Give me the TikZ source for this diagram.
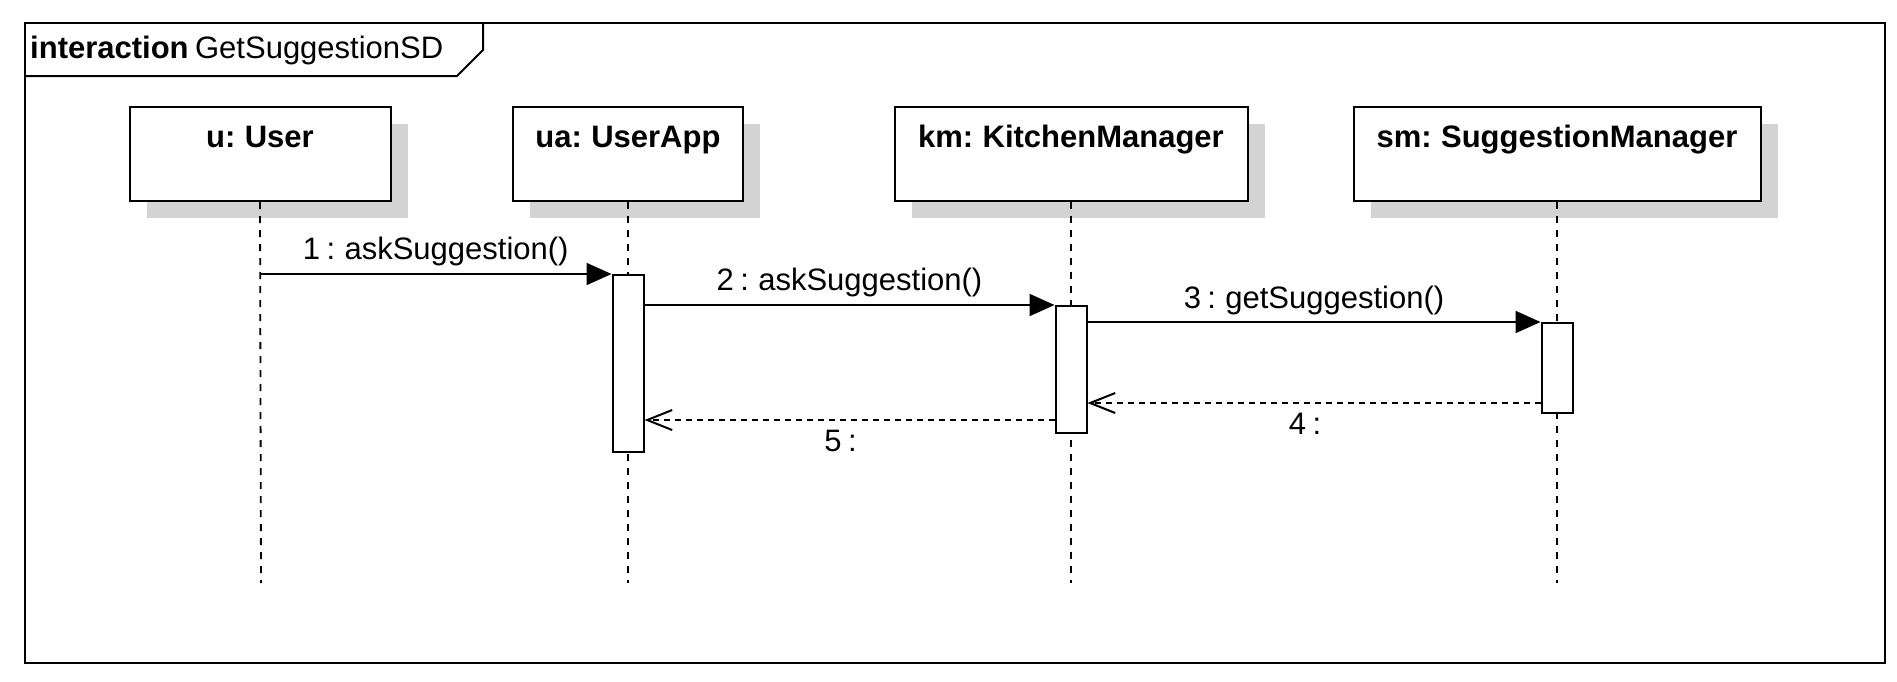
\documentclass[tikz,border=0pt]{standalone}
\usepackage{fontspec}
\setmainfont[WordSpace=0.75]{Liberation Sans}
\usetikzlibrary{arrows.meta,shadows}
\definecolor{shadowgrey}{HTML}{D3D3D3}
\begin{document}
\begin{tikzpicture}[x=1pt,y=-1pt,
  txt/.style={font=\fontsize{31}{37}\selectfont, inner sep=0pt},
  headbox/.style={draw, line width=2pt, fill=white, minimum height=94pt, inner sep=0pt,
    drop shadow={shadow xshift=17pt, shadow yshift=-17pt, fill=shadowgrey, opacity=1}},
  headlbl/.style={txt, font=\fontsize{31}{37}\selectfont\bfseries, anchor=base},
  act/.style={draw, line width=2pt, fill=white, minimum width=31pt, inner sep=0pt},
  lifeline/.style={line width=1.8pt, dash pattern=on 7pt off 7pt},
  msg/.style={line width=2pt, -{Triangle[length=25pt,width=22pt]}},
  ret/.style={line width=2pt, dash pattern=on 6pt off 5pt, -{Straight Barb[length=25pt,width=20pt,line width=2pt]}},
  msglbl/.style={txt, anchor=base}
]
\useasboundingbox (0,0) rectangle (1897,681);

% frame
\node[draw, line width=2pt, minimum width=1860pt, minimum height=640pt, inner sep=0pt] (frame) at (955,343) {};
\coordinate (tA) at (25,76);
\coordinate (tB) at (457,76);
\coordinate (tC) at (483,50);
\coordinate (tD) at (483,23);
\draw[line width=2pt] (tA) -- (tB) -- (tC) -- (tD);
\node[txt, anchor=base west] (title) at (30,58) {\textbf{interaction} GetSuggestionSD};

% heads
\node[headbox, minimum width=261pt] (u) at (260,154) {};
\node[headbox, minimum width=230pt] (ua) at (628,154) {};
\node[headbox, minimum width=353pt] (km) at (1071,154) {};
\node[headbox, minimum width=407pt] (sm) at (1557,154) {};
\node[headlbl] (ut) at ([yshift=-41pt]u.north) {u: User};
\node[headlbl] (uat) at ([yshift=-41pt]ua.north) {ua: UserApp};
\node[headlbl] (kmt) at ([yshift=-41pt]km.north) {km: KitchenManager};
\node[headlbl] (smt) at ([yshift=-41pt]sm.north) {sm: SuggestionManager};

% lifelines
\coordinate (uend) at (261,583);
\coordinate (uaend) at (628,583);
\coordinate (kmend) at (1071,583);
\coordinate (smend) at (1557,583);
\draw[lifeline] (u.south) -- (uend);
\draw[lifeline] (ua.south) -- (uaend);
\draw[lifeline] (km.south) -- (kmend);
\draw[lifeline] (sm.south) -- (smend);

% activations
\node[act, minimum height=177pt] (uaact) at (628,363.5) {};
\node[act, minimum height=127pt] (kmact) at (1071,369.5) {};
\node[act, minimum height=90pt] (smact) at (1557,368) {};

% messages
\draw[msg] (u |- uaact.north) -- (uaact.north west)
  node[msglbl, midway, yshift=15pt] (l1) {1 : askSuggestion()};
\draw[msg] (uaact.east |- kmact.north) -- (kmact.north west)
  node[msglbl, midway, yshift=15pt] (l2) {2 : askSuggestion()};
\draw[msg] (kmact.east |- smact.north) -- (smact.north west)
  node[msglbl, midway, yshift=14pt] (l3) {3 : getSuggestion()};
\coordinate (r4) at ([yshift=11pt]smact.south west);
\draw[ret] (r4) -- (kmact.east |- r4)
  node[msglbl, midway, yshift=-31pt, xshift=-9pt] (l4) {4 :};
\coordinate (r5) at ([yshift=14pt]kmact.south west);
\draw[ret] (r5) -- (uaact.east |- r5)
  node[msglbl, midway, yshift=-31pt, xshift=-9pt] (l5) {5 :};
\end{tikzpicture}
\end{document}
